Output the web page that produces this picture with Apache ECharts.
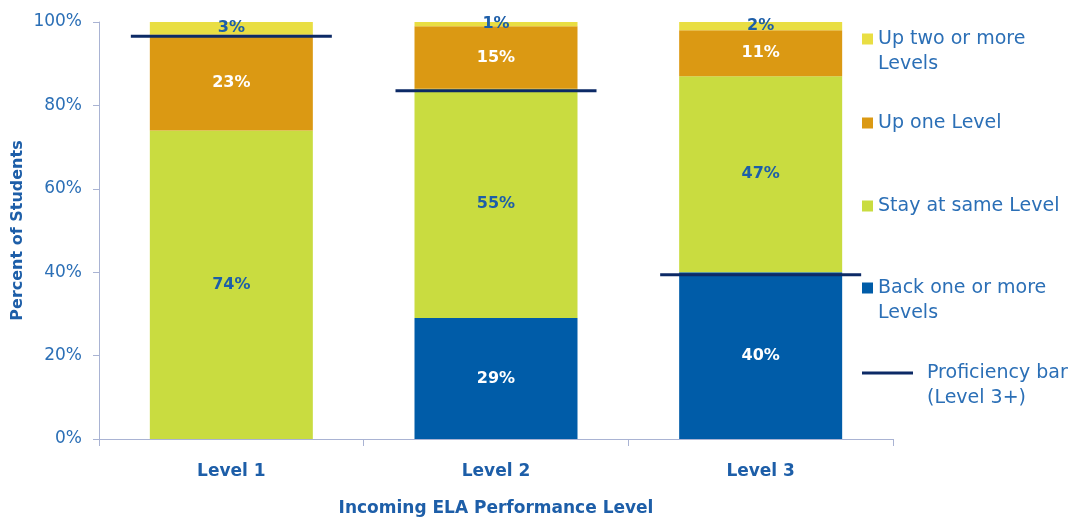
<!DOCTYPE html>
<html>
<head>
<meta charset="utf-8">
<script src="https://cdn.jsdelivr.net/npm/echarts@6/dist/echarts.min.js"></script>
<style>
html,body{margin:0;padding:0;background:#fff;}
#chart{width:1074px;height:517px;}
</style>
</head>
<body>
<div id="chart"></div>
<script>
var categories = ['Level 1', 'Level 2', 'Level 3'];
var backOneOrMore = [0, 29, 40];
var stayAtSame = [74, 55, 47];
var upOne = [23, 15, 11];
var upTwoOrMore = [3, 1, 2];
var proficiencyBar = [96.6, 83.5, 39.4];
var yTicks = [0, 20, 40, 60, 80, 100];

var FONT = 'DejaVu Sans';
var BLUE_TXT = '#2b6fb6';
var BLUE_BOLD = '#1d5ea8';

function lbl(color) {
  return {
    show: true,
    position: 'inside',
    color: color,
    fontFamily: FONT,
    fontWeight: 'bold',
    fontSize: 16,
    formatter: function (p) { return p.value ? p.value + '%' : ''; }
  };
}

function legendItem(name, top, w, h, twoLine, extraLeft) {
  return {
    left: 862, top: top, padding: 0, orient: 'vertical',
    itemWidth: w, itemHeight: h, selectedMode: false,
    data: [{ name: name, icon: 'rect' }],
    formatter: function (n) { return twoLine ? ' \n' + n : n; },
    textStyle: {
      color: BLUE_TXT, fontFamily: FONT, fontSize: 19, lineHeight: 25,
      padding: [0, 0, 0, extraLeft || 0]
    }
  };
}

var chart = echarts.init(document.getElementById('chart'));
chart.setOption({
  animation: false,
  backgroundColor: '#ffffff',
  grid: { left: 99, right: 181, top: 22, bottom: 78, outerBoundsMode: 'none', containLabel: false },
  legend: [
    legendItem('Up two or more\nLevels', 1.5, 11, 11, true),
    legendItem('Up one Level', 110.5, 11, 11, false),
    legendItem('Stay at same Level', 193.5, 11, 11, false),
    legendItem('Back one or more\nLevels', 250.5, 11, 11, true),
    legendItem('Proficiency bar\n(Level 3+)', 335.5, 51, 3, true, 9)
  ],
  xAxis: {
    type: 'category',
    data: categories,
    name: 'Incoming ELA Performance Level',
    nameLocation: 'middle',
    nameGap: 61,
    nameTextStyle: { color: BLUE_BOLD, fontFamily: FONT, fontWeight: 'bold', fontSize: 17 },
    axisLine: { lineStyle: { color: '#a9b3d3', width: 1 } },
    axisTick: { show: true, length: 7, lineStyle: { color: '#a9b3d3' } },
    axisLabel: { color: BLUE_BOLD, fontFamily: FONT, fontWeight: 'bold', fontSize: 17, margin: 24 }
  },
  yAxis: {
    type: 'value',
    min: 0, max: 100, interval: 20,
    name: 'Percent of Students',
    nameLocation: 'middle',
    nameGap: 73,
    nameMoveOverlap: false,
    nameTextStyle: { color: BLUE_BOLD, fontFamily: FONT, fontWeight: 'bold', fontSize: 16 },
    axisLine: { show: true, lineStyle: { color: '#a9b3d3', width: 1 } },
    axisTick: { show: true, length: 6, lineStyle: { color: '#a9b3d3' } },
    splitLine: { show: false },
    axisLabel: {
      color: BLUE_TXT, fontFamily: FONT, fontSize: 17, margin: 17,
      formatter: function (v) { return yTicks.indexOf(v) >= 0 ? v + '%' : ''; }
    }
  },
  series: [
    { name: 'Back one or more\nLevels', type: 'bar', stack: 's', barWidth: 163, data: backOneOrMore,
      itemStyle: { color: '#005ca8' }, label: lbl('#ffffff') },
    { name: 'Stay at same Level', type: 'bar', stack: 's', barWidth: 163, data: stayAtSame,
      itemStyle: { color: '#c9dc40' }, label: lbl(BLUE_BOLD) },
    { name: 'Up one Level', type: 'bar', stack: 's', barWidth: 163, data: upOne,
      itemStyle: { color: '#db9913' }, label: lbl('#ffffff') },
    { name: 'Up two or more\nLevels', type: 'bar', stack: 's', barWidth: 163, data: upTwoOrMore,
      itemStyle: { color: '#e9de43' }, label: lbl(BLUE_BOLD) },
    { name: 'Proficiency bar\n(Level 3+)', type: 'scatter', data: proficiencyBar,
      symbol: 'rect', symbolSize: [201, 3], z: 5,
      itemStyle: { color: '#0c2a66', opacity: 1 } }
  ]
});
</script>
</body>
</html>
